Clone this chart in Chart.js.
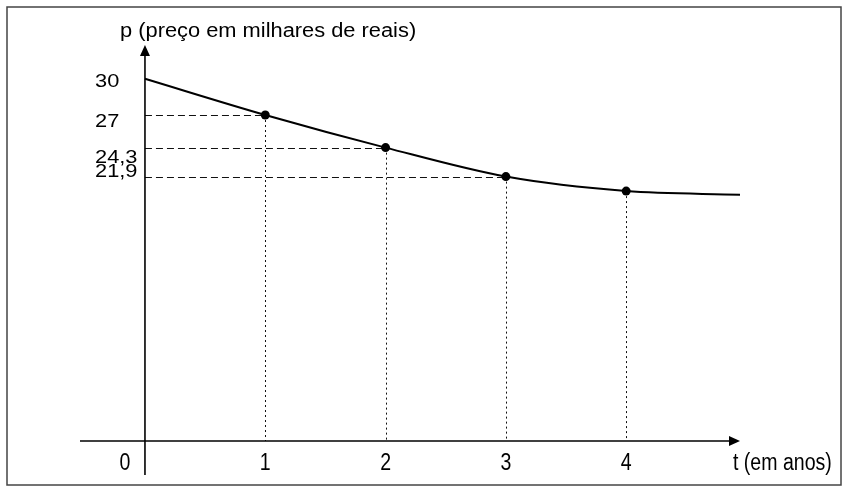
<!DOCTYPE html>
<html><head><meta charset="utf-8">
<script src="https://cdn.jsdelivr.net/npm/chart.js@4/dist/chart.umd.min.js"></script>
<style>html,body{margin:0;padding:0;background:#fff}#wrap{width:846px;height:491px;position:relative}</style>
</head><body><div id="wrap"><canvas id="c" width="846" height="491"></canvas></div>
<script>
// ---- data ----
const years = [0, 1, 2, 3, 4, 4.95];
const prices = [30, 27, 24.3, 21.9, 20.7, 20.4];
const markedYears = [1, 2, 3, 4];
const markedPrices = [27, 24.3, 21.9, 20.7];
const yTickValues = [30, 27, 24.3, 21.9];
const yTickLabels = ['30', '27', '24,3', '21,9'];
const xTickValues = [1, 2, 3, 4];
const xTickLabels = ['1', '2', '3', '4'];
const originLabel = '0';
const yTitle = 'p (preço em milhares de reais)';
const xTitle = 't (em anos)';

// ---- styling helpers ----
const yLabelNudge = [3, 7, 10, -5];
function txt(ctx, s, x, y, size, sx, align) {
  ctx.save();
  ctx.font = size + 'px "Liberation Sans", Arial, sans-serif';
  ctx.fillStyle = '#000';
  ctx.textBaseline = 'middle';
  ctx.textAlign = align || 'left';
  ctx.translate(x, y);
  ctx.scale(sx, 1);
  ctx.fillText(s, 0, 0);
  ctx.restore();
}

const decor = {
  id: 'decor',
  beforeDatasetsDraw(chart) {
    const ctx = chart.ctx, xs = chart.scales.x, ys = chart.scales.y, a = chart.chartArea;
    const x0 = xs.getPixelForValue(0), y0 = ys.getPixelForValue(0);
    ctx.save();
    // frame
    ctx.strokeStyle = '#444'; ctx.lineWidth = 1.5;
    ctx.strokeRect(7, 7, 834, 478);
    // guides
    ctx.strokeStyle = '#111'; ctx.lineWidth = 1;
    ctx.setLineDash([7, 4]);
    for (let i = 0; i < 3; i++) {
      const py = Math.round(ys.getPixelForValue(markedPrices[i])) + 0.5;
      ctx.beginPath(); ctx.moveTo(x0, py); ctx.lineTo(xs.getPixelForValue(markedYears[i]), py); ctx.stroke();
    }
    ctx.setLineDash([2, 3]);
    for (let i = 0; i < markedYears.length; i++) {
      const px = Math.round(xs.getPixelForValue(markedYears[i])) + 0.5;
      ctx.beginPath(); ctx.moveTo(px, ys.getPixelForValue(markedPrices[i])); ctx.lineTo(px, y0); ctx.stroke();
    }
    ctx.setLineDash([]);
    // axes
    ctx.strokeStyle = '#000'; ctx.fillStyle = '#000'; ctx.lineWidth = 1.6;
    ctx.beginPath(); ctx.moveTo(x0, y0 + 34); ctx.lineTo(x0, a.top + 8); ctx.stroke();
    ctx.beginPath(); ctx.moveTo(a.left, y0); ctx.lineTo(a.right - 8, y0); ctx.stroke();
    ctx.beginPath(); ctx.moveTo(x0, a.top); ctx.lineTo(x0 - 5, a.top + 11); ctx.lineTo(x0 + 5, a.top + 11); ctx.closePath(); ctx.fill();
    ctx.beginPath(); ctx.moveTo(a.right, y0); ctx.lineTo(a.right - 11, y0 - 5); ctx.lineTo(a.right - 11, y0 + 5); ctx.closePath(); ctx.fill();
    ctx.restore();
  },
  afterDraw(chart) {
    const ctx = chart.ctx, xs = chart.scales.x, ys = chart.scales.y;
    const x0 = xs.getPixelForValue(0), y0 = ys.getPixelForValue(0);
    txt(ctx, yTitle, 120, 32, 19.5, 1.12, 'left');
    yTickValues.forEach((v, i) => txt(ctx, yTickLabels[i], 95, ys.getPixelForValue(v) + yLabelNudge[i], 18.5, 1.18, 'left'));
    xTickValues.forEach((v, i) => txt(ctx, xTickLabels[i], xs.getPixelForValue(v), y0 + 23, 23, 0.85, 'center'));
    txt(ctx, originLabel, x0 - 20, y0 + 23, 23, 0.85, 'center');
    txt(ctx, xTitle, 733, y0 + 23, 23, 0.85, 'left');
  }
};

new Chart(document.getElementById('c').getContext('2d'), {
  type: 'line',
  data: {
    datasets: [
      { data: years.map((x, i) => ({ x, y: prices[i] })), borderColor: '#000', borderWidth: 2, pointRadius: 0, cubicInterpolationMode: 'monotone', fill: false },
      { data: markedYears.map((x, i) => ({ x, y: markedPrices[i] })), showLine: false, pointRadius: 4.5, pointBackgroundColor: '#000', pointBorderColor: '#000', pointBorderWidth: 0 }
    ]
  },
  options: {
    responsive: false, animation: false,
    layout: { padding: { left: 80, right: 106, top: 45, bottom: 50 } },
    scales: {
      x: { type: 'linear', min: -0.54, max: 4.946, display: false },
      y: { type: 'linear', min: 0, max: 32.8, display: false }
    },
    plugins: { legend: { display: false }, tooltip: { enabled: false } }
  },
  plugins: [decor]
});
</script></body></html>
